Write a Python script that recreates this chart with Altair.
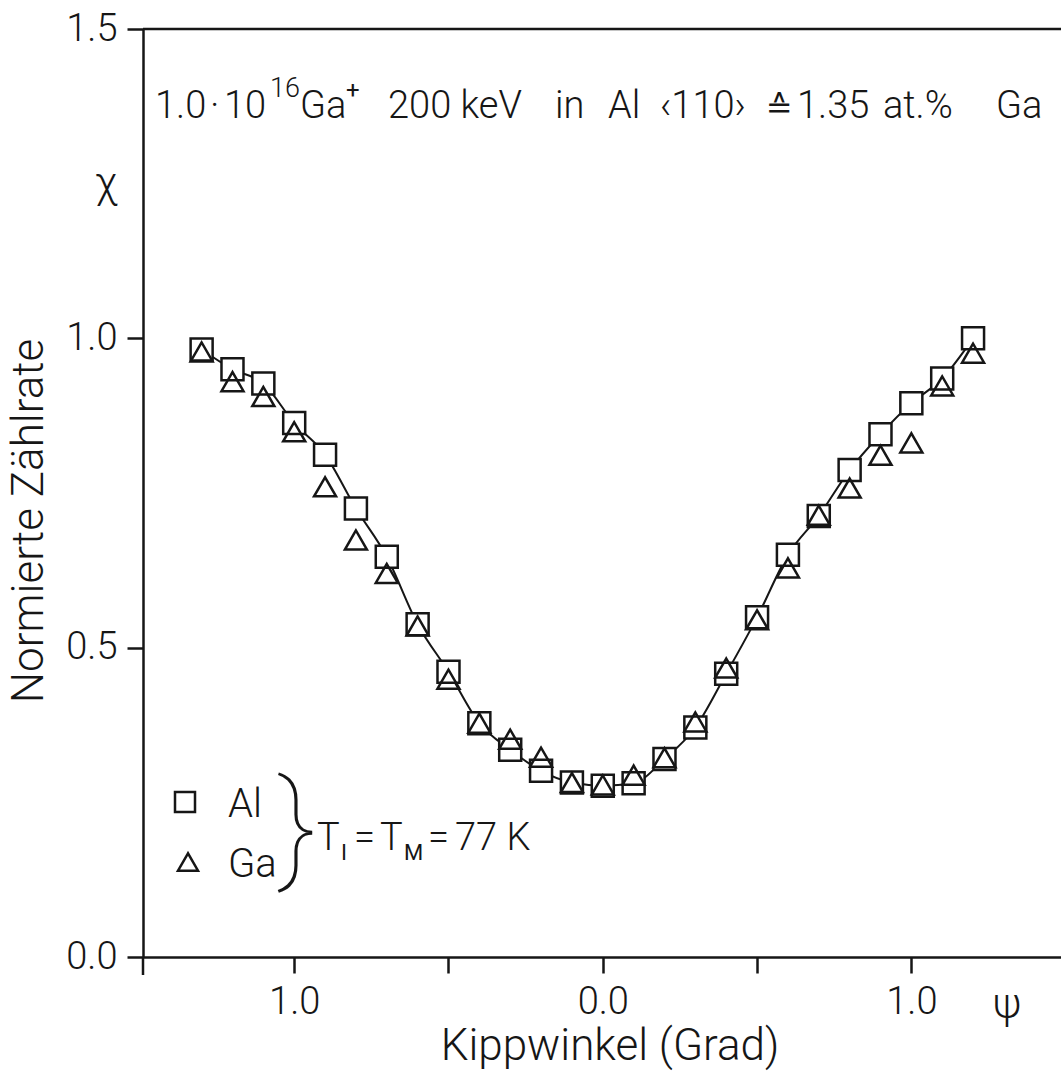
import altair as alt
import pandas as pd

# ---- data ----
angle = [-1.3, -1.2, -1.1, -1.0, -0.9, -0.8, -0.7, -0.6, -0.5, -0.4, -0.3, -0.2, -0.1,
         0.0, 0.1, 0.2, 0.3, 0.4, 0.5, 0.6, 0.7, 0.8, 0.9, 1.0, 1.1, 1.2]
al = [0.982, 0.950, 0.927, 0.863, 0.812, 0.725, 0.647, 0.538, 0.461, 0.378, 0.335, 0.301, 0.282,
      0.277, 0.281, 0.320, 0.371, 0.458, 0.549, 0.650, 0.713, 0.787, 0.845, 0.895, 0.935, 1.000]
ga = [0.978, 0.930, 0.906, 0.849, 0.760, 0.674, 0.620, 0.535, 0.449, 0.378, 0.352, 0.323, 0.282,
      0.278, 0.294, 0.322, 0.380, 0.467, 0.545, 0.629, 0.714, 0.758, 0.811, 0.831, 0.923, 0.976]
x_ticks = [-1.0, -0.5, 0.0, 0.5, 1.0]
y_ticks = [0.0, 0.5, 1.0, 1.5]

df = pd.DataFrame({"angle": angle, "Al": al, "Ga": ga})
one = pd.DataFrame({"k": [0]})

W, H = 918, 928
L, T = 143, 29
FONT = "Roboto"
INK = "#161616"

xs = alt.Scale(domain=[-1.49, 1.485], nice=False, zero=False)
ys = alt.Scale(domain=[0, 1.5], nice=False, zero=False)

xenc = alt.X("angle:Q", scale=xs, axis=alt.Axis(
    values=x_ticks, title=None,
    labelExpr="datum.value == 0 ? '0.0' : (abs(datum.value) == 1 ? '1.0' : '')"))
yenc = alt.Y("Al:Q", scale=ys, axis=alt.Axis(values=y_ticks, format=".1f", title=None))

base = alt.Chart(df)
line = base.mark_line(color=INK, strokeWidth=2, interpolate="monotone").encode(x=xenc, y=yenc)
squares = base.mark_point(shape="square", size=484, filled=True, fill="white", stroke=INK,
                          strokeWidth=2.5, opacity=1).encode(x="angle:Q", y="Al:Q")
tris = base.mark_point(shape="triangle-up", size=484, filled=False, stroke=INK, fillOpacity=0,
                       strokeWidth=2.5, opacity=1).encode(x="angle:Q", y="Ga:Q")


def t(s, px, py, size=38, align="left", baseline="alphabetic", angle=0, weight=300, font=FONT):
    return alt.Chart(one).mark_text(text=s, fontSize=size, font=font, fontWeight=weight, align=align,
                                    baseline=baseline, angle=angle, color=INK).encode(
        x=alt.value(px - L), y=alt.value(py - T))


top_rule = alt.Chart(one).mark_rule(color=INK, strokeWidth=2.5).encode(
    x=alt.value(0), x2=alt.value(W), y=alt.value(0))
corner = alt.Chart(one).mark_rule(color=INK, strokeWidth=2.5).encode(
    x=alt.value(0), y=alt.value(H), y2=alt.value(H + 18))

leg_sq = alt.Chart(one).mark_point(shape="square", size=400, filled=False, stroke=INK,
                                   strokeWidth=2.5, opacity=1).encode(
    x=alt.value(185 - L), y=alt.value(802 - T))
leg_tr = alt.Chart(one).mark_point(shape="triangle-up", size=400, filled=False, stroke=INK,
                                   strokeWidth=2.5, opacity=1).encode(
    x=alt.value(188 - L), y=alt.value(862 - T))

texts = [
    # title line
    t("1.0", 155, 118),
    t("·", 210, 118),
    t("10", 224, 118),
    t("16", 270, 97, size=27),
    t("Ga", 300, 118),
    t("+", 346, 98, size=24, weight=400),
    t("200 keV", 388, 118),
    t("in", 555, 118),
    t("Al", 608, 118),
    t("‹110›", 660, 118),
    t("≙", 766, 118, font="DejaVu Sans", weight=400, size=32),
    t("1.35", 797, 118),
    t("at.%", 883, 118),
    t("Ga", 996, 118),
    # axis annotations
    t("χ", 95, 184, baseline="middle", size=42),
    t("Normierte  Zählrate", 30, 521, align="center", baseline="middle", angle=270, size=44),
    t("Kippwinkel  (Grad)", 610, 1060, align="center", size=44),
    t("ψ", 1007, 1005, align="center", baseline="middle", size=42),
    # legend
    t("Al", 228, 817, size=40),
    t("Ga", 228, 877, size=40),
    t("}", 297, 867, size=120, align="center", weight=100),
    t("T", 317, 850),
    t("I", 341, 860, size=22, weight=400),
    t("=", 354, 850),
    t("T", 380, 850),
    t("M", 404, 860, size=22, weight=400),
    t("=", 428, 850),
    t("77 K", 455, 850),
]

chart = alt.layer(line, squares, tris, top_rule, corner, leg_sq, leg_tr, *texts).properties(
    width=W, height=H,
    autosize=alt.AutoSizeParams(type="none"),
    padding={"left": L, "top": T, "right": 0, "bottom": 115},
    background="white",
).configure_view(stroke=None).configure_axis(
    grid=False, labelFont=FONT, labelFontWeight=300, labelFontSize=38, labelColor=INK,
    tickColor=INK, domainColor=INK, tickSize=16, tickWidth=2.5, domainWidth=2.5,
    labelPadding=10,
)

chart.save("out.html", embed_options={"renderer": "svg", "actions": False})
